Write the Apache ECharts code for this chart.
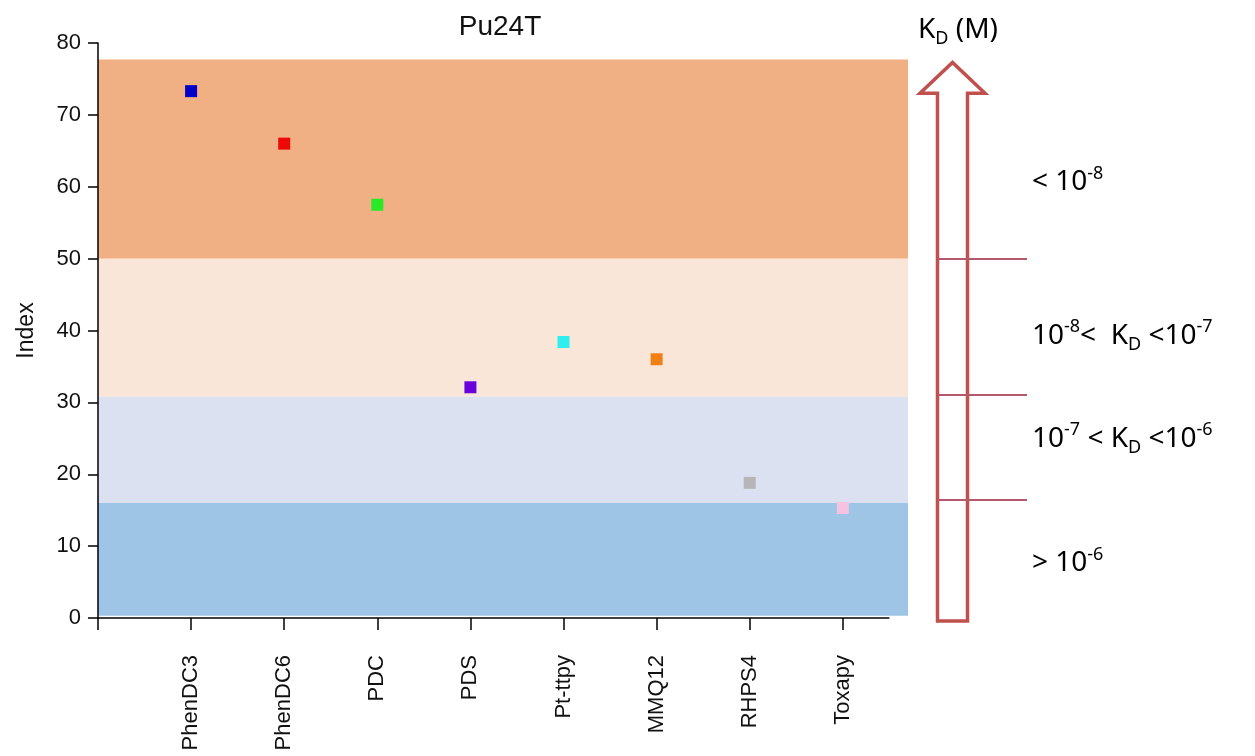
<!DOCTYPE html>
<html><head><meta charset="utf-8">
<script src="https://cdn.jsdelivr.net/npm/echarts@6/dist/echarts.min.js"></script>
<style>html,body{margin:0;padding:0;background:#fff}#c{width:1255px;height:756px}</style>
</head><body><div id="c"></div>
<script>
// ---- data ----
const categories = ['PhenDC3', 'PhenDC6', 'PDC', 'PDS', 'Pt-ttpy', 'MMQ12', 'RHPS4', 'Toxapy'];
const indexValues = [73.3, 66.0, 57.5, 32.1, 38.4, 36.0, 18.8, 15.3];
const yTicks = [0, 10, 20, 30, 40, 50, 60, 70, 80];
const xTickPositions = [0, 1, 2, 3, 4, 5, 6, 7, 8];
const bandEdges = [77.7, 50, 30.8, 16.0, 0.3];
const kdBoundaries = [50, 31.0, 16.4];
const kdLabelValues = [60.6, 39.2, 24.9, 7.6];
const kdLabels = [
  '{b|< 10}{sup|-8}',
  '{b|10}{sup|-8}{b|<  K}{sub|D}{b| <10}{sup|-7}',
  '{b|10}{sup|-7}{b| < K}{sub|D}{b| <10}{sup|-6}',
  '{b|> 10}{sup|-6}'
];
const arrowRange = { bottom: -0.4, headBase: 73.0, top: 77.3 };

// ---- styles ----
const markerColors = ['#0000c8', '#ee0808', '#28e828', '#6a00dc', '#30eeee', '#f08014', '#b6b6b6', '#f6c2e2'];
const bandColors = ['#F1B083', '#FAE6D8', '#DCE1F2', '#9EC4E6'];
const sansFont = '"Liberation Sans", Arial, sans-serif';
const kdFont = '"Noto Sans", sans-serif';
const textColor = '#111';
const richKD = {
  b: { fontFamily: kdFont, fontSize: 28, fontWeight: 'normal', color: '#000', lineHeight: 36 },
  sup: { fontFamily: kdFont, fontSize: 18, fontWeight: 'normal', color: '#000', lineHeight: 18, verticalAlign: 'top' },
  sub: { fontFamily: kdFont, fontSize: 18, fontWeight: 'normal', color: '#000', lineHeight: 18, verticalAlign: 'bottom' }
};

const chart = echarts.init(document.getElementById('c'), null, { renderer: 'canvas' });
const option = {
  animation: false,
  backgroundColor: '#ffffff',
  title: [
    { text: 'Pu24T', left: 495, top: 8, textAlign: 'center',
      textStyle: { fontFamily: sansFont, fontSize: 28, fontWeight: 'normal', color: textColor } },
    { text: '{b|K}{sub|D}{b| (M)}', left: 953, top: 7, textAlign: 'center',
      textStyle: { fontWeight: 'normal', color: '#000', rich: richKD } }
  ],
  grid: [
    { left: 98, top: 43, width: 810, height: 575 },
    { left: 900, top: 43, width: 140, height: 575 }
  ],
  xAxis: [
    { type: 'value', gridIndex: 0, min: 0, max: 8.7, interval: 1, z: 10,
      axisLine: { show: false }, splitLine: { show: false },
      axisTick: { show: true, customValues: xTickPositions, length: 12, lineStyle: { color: '#000', width: 1.5 } },
      axisLabel: { customValues: xTickPositions.slice(1), rotate: 90, margin: 37,
        formatter: v => categories[Math.round(v) - 1] || '',
        fontFamily: sansFont, fontSize: 22, color: textColor } },
    { type: 'value', gridIndex: 1, min: 900, max: 1040, show: false }
  ],
  yAxis: [
    { type: 'value', gridIndex: 0, min: yTicks[0], max: yTicks[yTicks.length - 1], interval: 10, z: 10,
      axisLine: { show: true, lineStyle: { color: '#000', width: 1.5 } },
      axisTick: { show: true, length: 10, lineStyle: { color: '#000', width: 1.5 } },
      axisLabel: { margin: 17, fontFamily: sansFont, fontSize: 22, color: textColor },
      splitLine: { show: false },
      name: 'Index', nameLocation: 'middle', nameGap: 60,
      nameTextStyle: { fontFamily: sansFont, fontSize: 23, color: textColor } },
    { type: 'value', gridIndex: 1, min: 0, max: 80, show: false }
  ],
  series: [
    { type: 'scatter', xAxisIndex: 0, yAxisIndex: 0, z: 3,
      symbol: 'rect', symbolSize: 12, itemStyle: { opacity: 1 },
      data: indexValues.map((v, i) => ({ value: [i + 1, v], itemStyle: { color: markerColors[i], opacity: 1 } })),
      markArea: { silent: true, z: 1,
        data: bandColors.map((c, i) => [
          { xAxis: 0, yAxis: bandEdges[i + 1], itemStyle: { color: c, opacity: 1 } },
          { xAxis: 8.7, yAxis: bandEdges[i] }
        ]) } },
    { type: 'line', xAxisIndex: 0, yAxisIndex: 0, z: 6, silent: true, clip: false,
      symbol: 'none', data: [[0, 0], [8.5, 0]],
      lineStyle: { color: '#000', width: 1.5 } },
    { type: 'custom', xAxisIndex: 1, yAxisIndex: 1, z: 2, silent: true, clip: false,
      data: [[952.5, 0]],
      renderItem: function (params, api) {
        const cx = 952.5, hw = 15, hh = 32.5;
        const pts = [
          [cx - hw, arrowRange.bottom], [cx - hw, arrowRange.headBase], [cx - hh, arrowRange.headBase],
          [cx, arrowRange.top],
          [cx + hh, arrowRange.headBase], [cx + hw, arrowRange.headBase], [cx + hw, arrowRange.bottom]
        ].map(p => api.coord(p));
        return { type: 'polygon', shape: { points: pts },
          style: { fill: '#ffffff', stroke: '#C0504D', lineWidth: 3.5, lineJoin: 'miter' } };
      } },
    { type: 'line', xAxisIndex: 1, yAxisIndex: 1, z: 4, silent: true, data: [],
      markLine: { silent: true, symbol: ['none', 'none'], label: { show: false },
        lineStyle: { color: '#B5586C', width: 2, type: 'solid' },
        data: kdBoundaries.map(v => [{ coord: [938, v] }, { coord: [1027, v] }]) } },
    { type: 'scatter', xAxisIndex: 1, yAxisIndex: 1, z: 5, silent: true,
      symbolSize: 0, itemStyle: { opacity: 1 },
      data: kdLabelValues.map(v => [1030, v]),
      label: { show: true, position: 'right', distance: 2, color: '#000',
        formatter: p => kdLabels[p.dataIndex], rich: richKD } }
  ]
};
chart.setOption(option);
</script>
</body></html>
